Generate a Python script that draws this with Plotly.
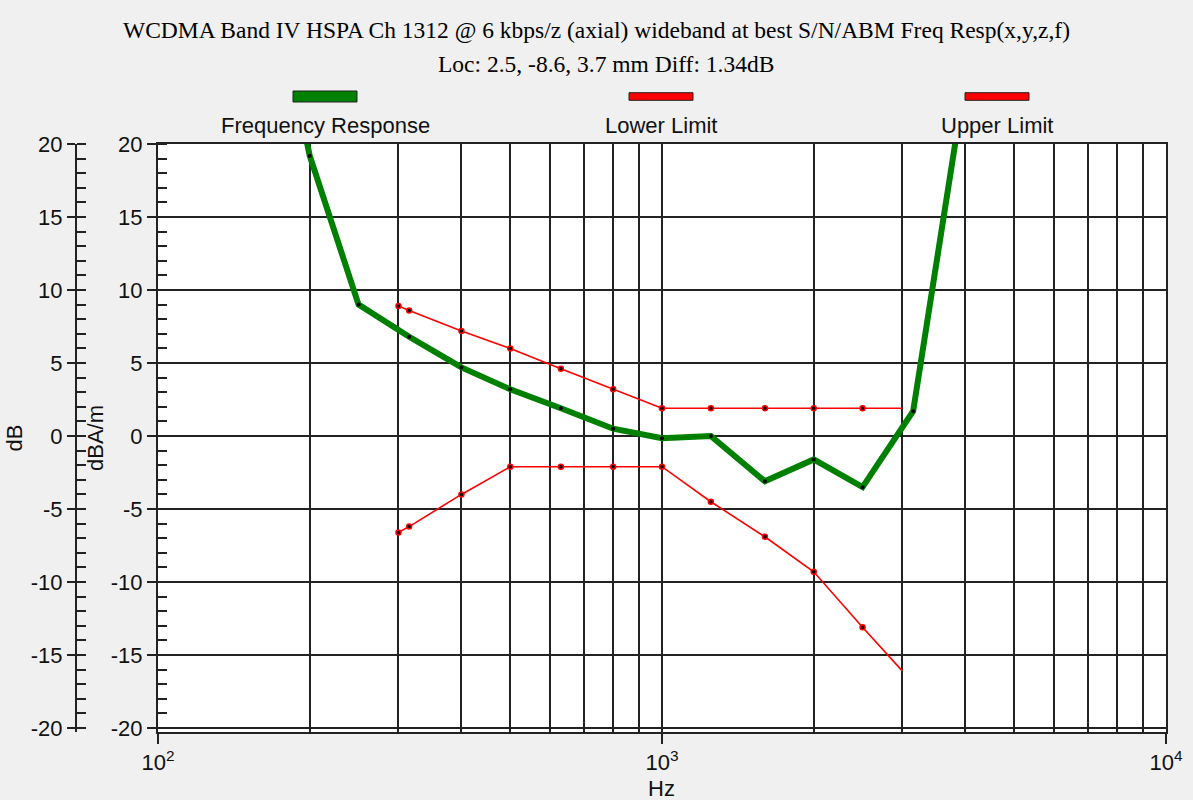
import plotly.graph_objects as go

# ---------------- data ----------------
fr_hz = [160, 200, 250, 315, 400, 500, 630, 800, 1000, 1250, 1600, 2000, 2500, 3150, 4000]
fr_db = [35.0, 19.2, 9.0, 6.8, 4.7, 3.2, 1.9, 0.5, -0.15, 0.0, -3.1, -1.6, -3.5, 1.7, 24.5]

lim_hz = [300, 315, 400, 500, 630, 800, 1000, 1250, 1600, 2000, 2500, 3000]
upper_db = [8.9, 8.6, 7.2, 6.0, 4.6, 3.2, 1.9, 1.9, 1.9, 1.9, 1.9, 1.9]
lower_db = [-6.6, -6.2, -4.0, -2.1, -2.1, -2.1, -2.1, -4.5, -6.9, -9.3, -13.1, -16.1]

title_1 = "WCDMA Band IV HSPA Ch 1312 @ 6 kbps/z (axial) wideband at best S/N/ABM Freq Resp(x,y,z,f)"
title_2 = "Loc: 2.5, -8.6, 3.7 mm Diff: 1.34dB"
x_title = "Hz"
legend_names = ["Frequency Response", "Lower Limit", "Upper Limit"]
x_tick_vals = [100, 1000, 10000]
x_tick_text = ["10<sup>2</sup>", "10<sup>3</sup>", "10<sup>4</sup>"]
x_minor_vals = [m * 10 ** e for e in (2, 3) for m in range(2, 10)]
y_tick_vals = [-20, -15, -10, -5, 0, 5, 10, 15, 20]
y_tick_text = [str(v) for v in y_tick_vals]  # plain hyphen minus

# ---------------- layout helpers ----------------
W, H = 1193, 800
ML, MR, MT, MB = 60, 27, 144, 68
PW = W - ML - MR
PH = H - MT - MB


def px_x(px):
    return (px - ML) / PW


def px_y(py):
    return (H - MB - py) / PH


GREEN = "#008000"
RED = "#ff0000"
GRID = "#222222"
FONT = "Liberation Sans"
SERIF = "Liberation Serif"
TXT = "#111111"
FS = 22

fig = go.Figure()

n_lim = len(lim_hz)
lim_opacity = [1] * (n_lim - 1) + [0]

fig.add_trace(go.Scatter(
    x=lim_hz, y=upper_db, mode="lines+markers", name=legend_names[2],
    line=dict(color=RED, width=1.6),
    marker=dict(size=5, color="black", opacity=lim_opacity, line=dict(color=RED, width=1.5)),
))
fig.add_trace(go.Scatter(
    x=lim_hz, y=lower_db, mode="lines+markers", name=legend_names[1],
    line=dict(color=RED, width=1.6),
    marker=dict(size=5, color="black", opacity=lim_opacity, line=dict(color=RED, width=1.5)),
))
fig.add_trace(go.Scatter(
    x=fr_hz, y=fr_db, mode="lines+markers", name=legend_names[0],
    line=dict(color=GREEN, width=6),
    marker=dict(size=4, color="black"),
))

# extra overlay axes (left "dB" axis)
fig.add_trace(go.Scatter(x=[None], y=[None], yaxis="y2", showlegend=False))
fig.add_trace(go.Scatter(x=[None], y=[None], yaxis="y3", showlegend=False))

yrange = [-20.27, 20]
tickfont = dict(family=FONT, size=FS, color=TXT)
titlefont = dict(family=FONT, size=FS, color=TXT)

fig.update_layout(
    width=W, height=H,
    margin=dict(l=ML, r=MR, t=MT, b=MB, autoexpand=False),
    paper_bgcolor="#f0f0f0",
    plot_bgcolor="white",
    showlegend=False,
    xaxis=dict(
        type="log", range=[2, 4], domain=[px_x(158), 1], automargin=False,
        tickvals=x_tick_vals, ticktext=x_tick_text, tickfont=tickfont,
        ticks="outside", ticklen=10, tickwidth=2, tickcolor=GRID,
        showgrid=True, gridcolor=GRID, gridwidth=2,
        minor=dict(tickvals=x_minor_vals, showgrid=True, gridcolor=GRID, gridwidth=2, ticks=""),
        showline=True, linecolor=GRID, linewidth=2, mirror=True, zeroline=False,
    ),
    yaxis=dict(
        range=yrange, tickvals=y_tick_vals, ticktext=y_tick_text, tickfont=tickfont,
        automargin=False,
        ticks="outside", ticklen=9, tickwidth=2, tickcolor=GRID,
        showgrid=True, gridcolor=GRID, gridwidth=2,
        minor=dict(dtick=1, tick0=0, ticks="inside", ticklen=9, tickwidth=2, tickcolor=GRID, showgrid=False),
        showline=True, linecolor=GRID, linewidth=2, mirror=True, zeroline=False,
        title=dict(text="dBA/m", font=titlefont, standoff=1),
    ),
    yaxis2=dict(
        overlaying="y", anchor="free", position=px_x(76), side="left", automargin=False,
        range=yrange, tickvals=y_tick_vals, ticktext=y_tick_text, tickfont=tickfont,
        ticks="outside", ticklen=8, tickwidth=2, tickcolor=GRID,
        minor=dict(dtick=1, tick0=0, ticks="inside", ticklen=9, tickwidth=2, tickcolor=GRID, showgrid=False),
        showgrid=False, showline=True, linecolor=GRID, linewidth=2, zeroline=False,
        title=dict(text="dB", font=titlefont, standoff=1),
    ),
    yaxis3=dict(
        overlaying="y", anchor="free", position=px_x(76), side="left", automargin=False,
        range=yrange, tickvals=y_tick_vals, showticklabels=False,
        ticks="inside", ticklen=9, tickwidth=2, tickcolor=GRID,
        showgrid=False, showline=False, zeroline=False,
    ),
)

# x-axis title placed under the tick labels
fig.add_annotation(text=x_title, xref="paper", yref="paper", x=px_x(661), y=px_y(788),
                   xanchor="center", yanchor="middle", showarrow=False, font=titlefont)

# titles
fig.add_annotation(text=title_1, xref="paper", yref="paper", x=px_x(596.5), y=px_y(30),
                   xanchor="center", yanchor="middle", showarrow=False,
                   font=dict(family=SERIF, size=23.5, color="black"))
fig.add_annotation(text=title_2, xref="paper", yref="paper", x=px_x(606), y=px_y(64),
                   xanchor="center", yanchor="middle", showarrow=False,
                   font=dict(family=SERIF, size=23.5, color="black"))

# legend (swatch above label)
legend_colors = [GREEN, RED, RED]
legend_centers = [325, 661, 997]
legend_half_h = [5.5, 3.8, 3.8]
for name, col, cx, hh in zip(legend_names, legend_colors, legend_centers, legend_half_h):
    fig.add_shape(type="rect", xref="paper", yref="paper",
                  x0=px_x(cx - 32), x1=px_x(cx + 32), y0=px_y(96.5 + hh), y1=px_y(96.5 - hh),
                  fillcolor=col, line=dict(color="#222222", width=1))
    fig.add_annotation(text=name, xref="paper", yref="paper", x=px_x(cx), y=px_y(125),
                       xanchor="center", yanchor="middle", showarrow=False,
                       font=dict(family=FONT, size=FS, color=TXT))

fig.write_html("out.html")
